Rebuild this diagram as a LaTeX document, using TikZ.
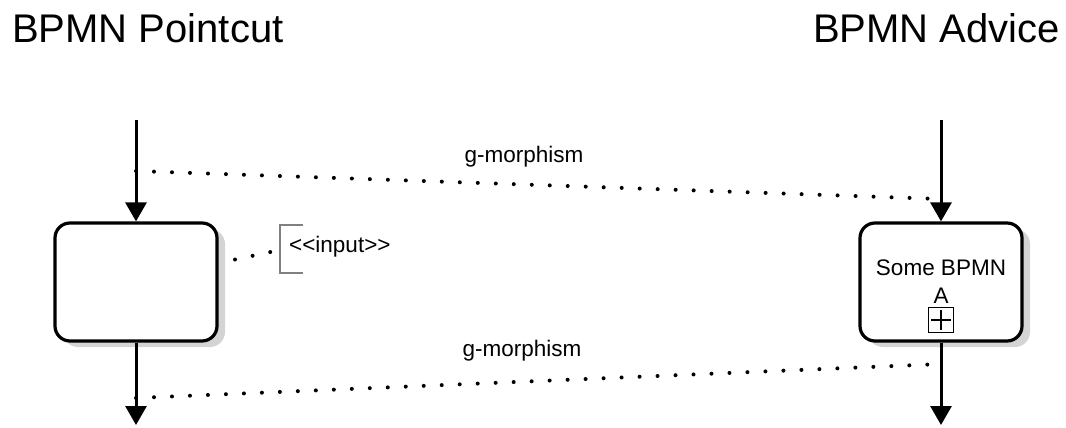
\documentclass[tikz,border=0pt]{standalone}
\usepackage{fontspec}
\setmainfont{Liberation Sans}
\usetikzlibrary{arrows.meta,positioning,calc,shadows}

\begin{document}
\begin{tikzpicture}[x=1pt, y=-1pt,
  title/.style={font=\fontsize{40}{48}\selectfont, inner sep=0pt},
  lbl/.style={font=\fontsize{22.5}{26}\selectfont, inner sep=0pt},
  task/.style={draw, fill=white, line width=3.2pt, rounded corners=15pt,
    minimum width=162pt, minimum height=118pt,
    drop shadow={shadow xshift=8pt, shadow yshift=-6pt, fill=black!17, opacity=1}},
  flow/.style={line width=3pt, -{Triangle[length=19pt,width=21pt]}},
  morph/.style={line width=4pt, line cap=round, dash pattern=on 0pt off 18pt},
  bracket/.style={draw=black!50, line width=1.2pt},
  marker/.style={draw, line width=1.5pt, minimum size=25pt, inner sep=0pt}]
\useasboundingbox (0,0) rectangle (1066,428);
% titles
\node[title, anchor=base west] (ptitle) at (12,43) {BPMN Pointcut};
\node[title, anchor=base east] (atitle) at (1060,43) {BPMN Advice};
% pointcut side
\coordinate (pstart) at (136,120);
\coordinate (pend) at (136,425);
\node[task] (pbox) at (136,282) {};
\draw[flow] (pstart) -- (pbox);
\draw[flow] (pbox) -- (pend);
% advice side
\coordinate (astart) at (941,120);
\coordinate (aend) at (941,425);
\node[task] (abox) at (941,282) {};
\node[lbl, anchor=base] (some) at (941,275) {Some BPMN};
\node[lbl, anchor=base] (aname) at (941,303) {A};
\node[marker] (plus) at (941,320) {};
\draw[line width=2pt] ([xshift=3pt]plus.west) -- ([xshift=-3pt]plus.east)
  ([yshift=-3pt]plus.north) -- ([yshift=3pt]plus.south);
\draw[flow] (astart) -- (abox);
\draw[flow] (abox) -- (aend);
% g-morphisms
\coordinate (pm1) at (136,171);
\coordinate (am1) at (941,199);
\coordinate (pm2) at (136,398);
\coordinate (am2) at (941,364);
\draw[morph] (pm1) -- (am1);
\draw[morph] (pm2) -- (am2);
\node[lbl] (morph1) at (524,157) {g-morphism};
\node[lbl] (morph2) at (522,351) {g-morphism};
% input annotation
\coordinate (ib1) at (303,225);
\coordinate (ib2) at (280,225);
\coordinate (ib3) at (280,273);
\coordinate (ib4) at (303,273);
\coordinate (ibmid) at (280,250);
\draw[bracket] (ib1) -- (ib2) -- (ib3) -- (ib4);
\draw[morph, dash phase=8pt] (ibmid) -- ([yshift=19pt]pbox.east);
\node[lbl, anchor=west] (input) at (289,247) {<\kern0pt<input>\kern0pt>};
\end{tikzpicture}
\end{document}
